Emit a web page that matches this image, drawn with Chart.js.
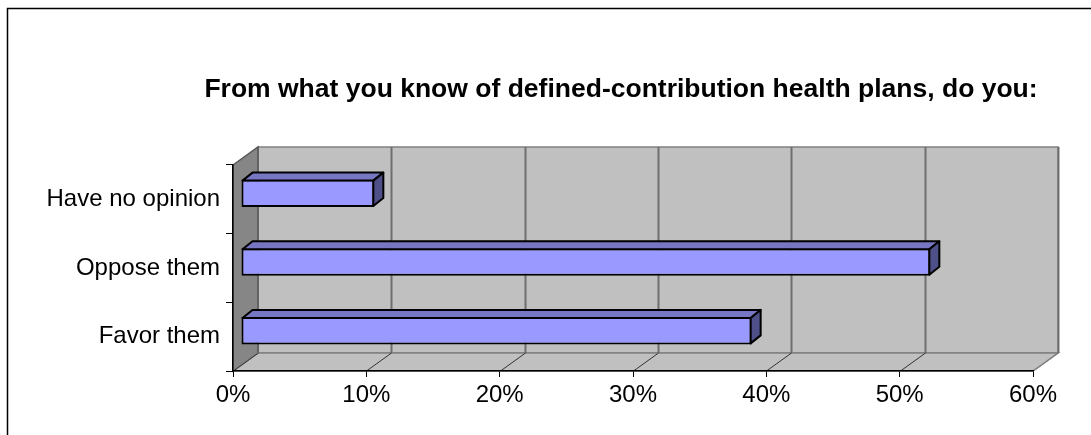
<!DOCTYPE html>
<html>
<head>
<meta charset="utf-8">
<script src="https://cdn.jsdelivr.net/npm/chart.js@4.4.1/dist/chart.umd.min.js"></script>
<style>
  body { margin: 0; background: #fff; }
  canvas { display: block; }
</style>
</head>
<body>
<canvas id="opinionChart" width="1091" height="435"></canvas>
<script>
const chartTitle = 'From what you know of defined-contribution health plans, do you:';
const categories = ['Have no opinion', 'Oppose them', 'Favor them'];
const shares = [10.0, 51.7, 38.3];
const tickValues = [0, 10, 20, 30, 40, 50, 60];

const FONT = "'Liberation Sans', Arial, sans-serif";

// depth of the walls/floor and of each bar, in px
const wallDepth = { dx: 25, dy: -18 };
const barShift = { dx: 8, dy: -6 };
const barDepth = { dx: 10, dy: -8 };

function poly(ctx, pts) {
    ctx.beginPath();
    ctx.moveTo(pts[0][0], pts[0][1]);
    for (let i = 1; i < pts.length; i++) ctx.lineTo(pts[i][0], pts[i][1]);
    ctx.closePath();
}

const depthPlugin = {
    id: 'depth3d',
    beforeDraw(chart) {
        const ctx = chart.ctx;
        const a = chart.chartArea;
        const x = chart.scales.x;
        const dx = wallDepth.dx, dy = wallDepth.dy;

        ctx.save();
        // outer frame (only top and left edges fall inside the canvas)
        ctx.strokeStyle = '#000';
        ctx.lineWidth = 1.5;
        ctx.beginPath();
        ctx.moveTo(7.5, chart.height + 5);
        ctx.lineTo(7.5, 8.5);
        ctx.lineTo(chart.width + 5, 8.5);
        ctx.stroke();

        // title
        ctx.fillStyle = '#000';
        ctx.font = 'bold 26.5px ' + FONT;
        ctx.textAlign = 'center';
        ctx.textBaseline = 'alphabetic';
        ctx.fillText(chartTitle, 621, 97);

        ctx.lineJoin = 'miter';
        // back wall
        ctx.fillStyle = '#c0c0c0';
        ctx.strokeStyle = '#808080';
        ctx.lineWidth = 1.5;
        poly(ctx, [[a.left + dx, a.top + dy], [a.right + dx, a.top + dy],
                   [a.right + dx, a.bottom + dy], [a.left + dx, a.bottom + dy]]);
        ctx.fill();
        ctx.stroke();

        // left side wall
        ctx.fillStyle = '#868686';
        ctx.strokeStyle = '#555';
        poly(ctx, [[a.left, a.top], [a.left + dx, a.top + dy],
                   [a.left + dx, a.bottom + dy], [a.left, a.bottom]]);
        ctx.fill();
        ctx.stroke();

        // floor
        ctx.fillStyle = '#c0c0c0';
        ctx.strokeStyle = '#808080';
        poly(ctx, [[a.left, a.bottom], [a.left + dx, a.bottom + dy],
                   [a.right + dx, a.bottom + dy], [a.right, a.bottom]]);
        ctx.fill();
        ctx.stroke();

        // value gridlines on the back wall and across the floor
        x.ticks.forEach(t => {
            const px = Math.round(x.getPixelForValue(t.value)) + 0.5;
            if (t.value > 0) {
                ctx.strokeStyle = '#6e6e6e';
                ctx.lineWidth = 2;
                ctx.beginPath();
                ctx.moveTo(px + dx, a.top + dy);
                ctx.lineTo(px + dx, a.bottom + dy);
                ctx.stroke();
            }
            ctx.strokeStyle = t.value === 60 ? '#808080' : '#333';
            ctx.lineWidth = 1;
            ctx.beginPath();
            ctx.moveTo(px, a.bottom);
            ctx.lineTo(px + dx, a.bottom + dy);
            ctx.stroke();
        });
        ctx.restore();
    },
    beforeDatasetsDraw(chart) {
        // bars sit a little way back from the front plane
        chart.ctx.save();
        chart.ctx.translate(barShift.dx, barShift.dy);
    },
    afterDatasetsDraw(chart) {
        const ctx = chart.ctx;
        const meta = chart.getDatasetMeta(0);
        ctx.lineWidth = 2;
        ctx.strokeStyle = '#000';
        ctx.lineJoin = 'round';
        meta.data.forEach(bar => {
            const p = bar.getProps(['x', 'y', 'base', 'height'], true);
            const left = Math.min(p.x, p.base) + 1;
            const right = Math.max(p.x, p.base) - 1;
            const top = p.y - p.height / 2 + 1;
            const bottom = p.y + p.height / 2 - 1;
            const ddx = barDepth.dx, ddy = barDepth.dy;
            // top face
            ctx.fillStyle = '#7676c2';
            poly(ctx, [[left, top], [left + ddx, top + ddy], [right + ddx, top + ddy], [right, top]]);
            ctx.fill();
            ctx.stroke();
            // end face
            ctx.fillStyle = '#4f4f8a';
            poly(ctx, [[right, top], [right + ddx, top + ddy], [right + ddx, bottom + ddy], [right, bottom]]);
            ctx.fill();
            ctx.stroke();
        });
        ctx.restore();
    }
};

new Chart(document.getElementById('opinionChart'), {
    type: 'bar',
    data: {
        labels: categories,
        datasets: [{
            data: shares,
            backgroundColor: '#9999ff',
            borderColor: '#000',
            borderWidth: 2,
            borderSkipped: false,
            categoryPercentage: 1.0,
            barPercentage: 0.4
        }]
    },
    options: {
        indexAxis: 'y',
        responsive: false,
        animation: false,
        layout: {
            padding: { top: 165, right: 58, left: 0, bottom: 0 }
        },
        scales: {
            x: {
                min: 0,
                max: 60,
                afterBuildTicks: scale => {
                    scale.ticks = tickValues.map(v => ({ value: v }));
                },
                afterFit: scale => { scale.height = 64; },
                grid: { drawOnChartArea: false, drawTicks: true, tickLength: 6, color: '#000' },
                border: { display: true, color: '#000', width: 1.5 },
                ticks: {
                    color: '#000',
                    padding: 4,
                    font: { family: FONT, size: 24 },
                    callback: v => v + '%'
                }
            },
            y: {
                afterFit: scale => { scale.width = 233; },
                grid: { drawOnChartArea: false, drawTicks: true, tickLength: 7, color: '#000', offset: true },
                border: { display: true, color: '#000', width: 1.5 },
                ticks: {
                    color: '#000',
                    padding: 6,
                    font: { family: FONT, size: 24 }
                }
            }
        },
        plugins: {
            legend: { display: false },
            tooltip: { enabled: false }
        }
    },
    plugins: [depthPlugin]
});
</script>
</body>
</html>
